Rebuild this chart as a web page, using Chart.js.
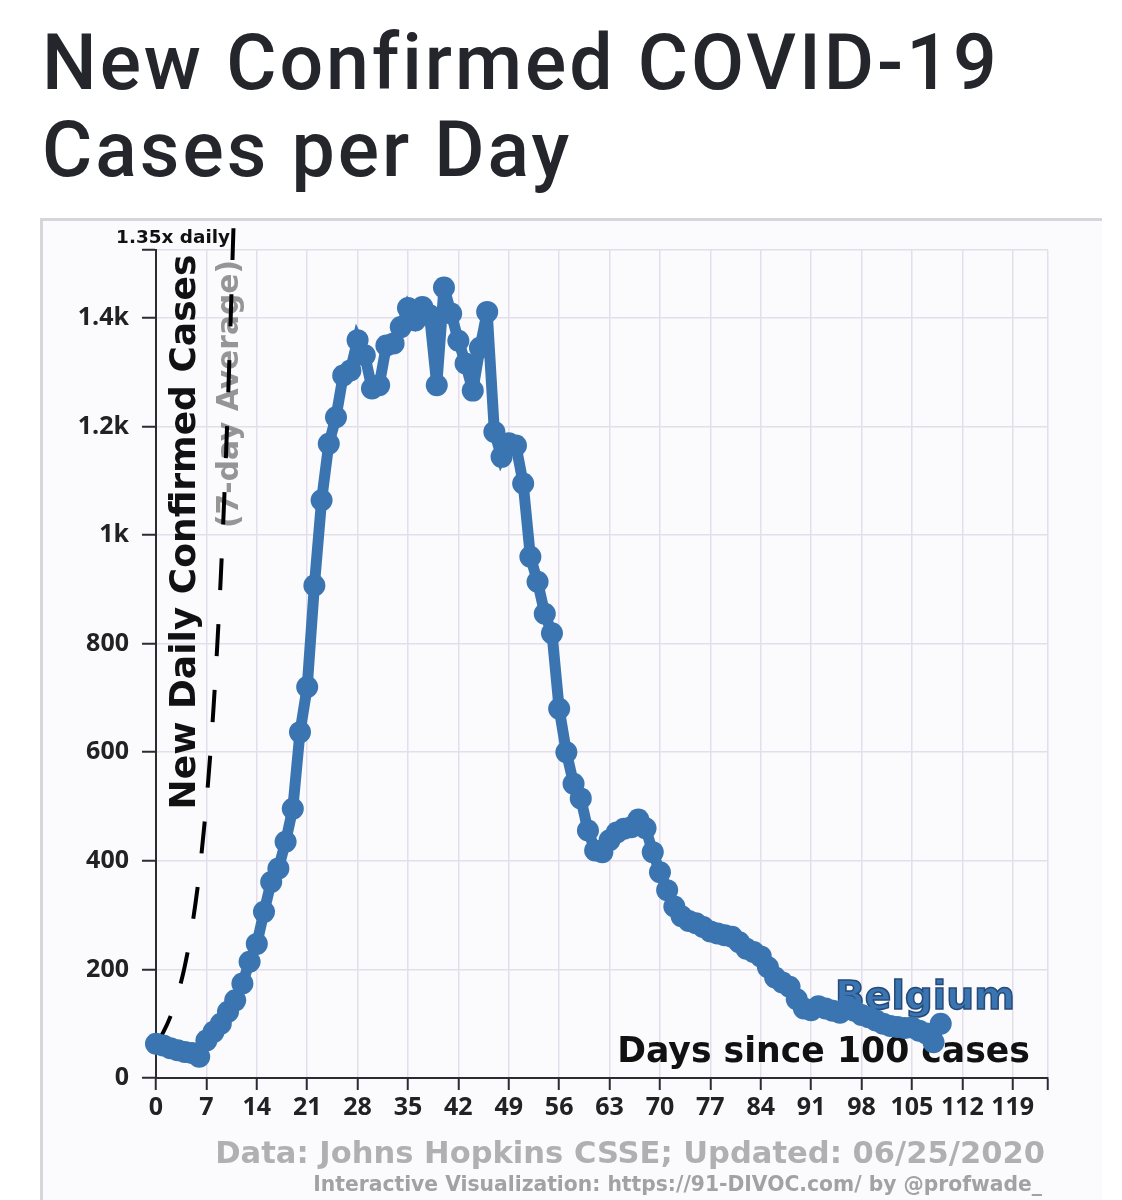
<!DOCTYPE html>
<html>
<head>
<meta charset="utf-8">
<title>New Confirmed COVID-19 Cases per Day</title>
<script src="https://cdn.jsdelivr.net/npm/chart.js@4.4.1/dist/chart.umd.min.js"></script>
<style>
  html, body { margin: 0; padding: 0; background: #fff; }
  body { width: 1122px; height: 1200px; position: relative; overflow: hidden; }
  #title {
    position: absolute; left: 42px; top: 20px;
    font-family: Roboto, sans-serif; font-size: 77px; font-weight: 500;
    line-height: 87px; letter-spacing: 3px; color: #24262b; white-space: nowrap;
  }
  #box {
    position: absolute; left: 40px; top: 218px; width: 1062px; height: 1000px;
    border-top: 3px solid #d6d6da; border-left: 3px solid #d6d6da;
    background: #fbfbfd; box-sizing: border-box;
  }
  #chart { position: absolute; left: 0; top: 0; }
</style>
</head>
<body>
<div id="title">New Confirmed COVID-19<br>Cases per Day</div>
<div id="box"></div>
<canvas id="chart" width="1122" height="1200"></canvas>
<script>
// Belgium, new daily confirmed cases (7-day average), one value per day since 100 cases (day 0..109)
const belgium = [
  63, 60, 55, 51, 48, 46, 39, 69, 85, 100,
  122, 143, 174, 214, 247, 306, 361, 386, 435, 496,
  637, 720, 907, 1064, 1168, 1217, 1294, 1303, 1359, 1331,
  1270, 1276, 1349, 1353, 1383, 1418, 1395, 1420, 1405, 1276,
  1456, 1408, 1358, 1316, 1266, 1345, 1411, 1190, 1144, 1169,
  1165, 1095, 960, 914, 855, 819, 680, 600, 542, 515,
  456, 419, 416, 438, 452, 459, 462, 476, 460, 416,
  379, 346, 316, 298, 289, 285, 278, 270, 266, 263,
  260, 250, 238, 232, 224, 204, 185, 176, 168, 145,
  128, 125, 132, 128, 124, 120, 131, 124, 116, 112,
  106, 100, 96, 94, 92, 93, 87, 82, 66, 100
];

// "1.35x daily" reference line
const refDays = [0, 1, 2, 3, 4, 5, 6, 7, 8, 9, 10, 10.76];
const refValues = [62, 84, 113, 153, 206, 278, 375, 507, 684, 923, 1247, 1565];

// axis ticks
const xTicks = [0, 7, 14, 21, 28, 35, 42, 49, 56, 63, 70, 77, 84, 91, 98, 105, 112, 119, 123.9];
const yTicks = [0, 200, 400, 600, 800, 1000, 1200, 1400, 1525];

const blue = "#3a74b1";
const boldFont = "'DejaVu Sans', sans-serif";
const tickFont = { family: "'Open Sans', sans-serif", weight: "bold", size: 25 };

function fitFont(ctx, text, family, targetWidth) {
  ctx.font = "bold 100px " + family;
  const size = 100 * targetWidth / ctx.measureText(text).width;
  ctx.font = "bold " + size + "px " + family;
}

const textPlugin = {
  id: "texts",
  beforeDatasetsDraw(chart) {
    const ctx = chart.ctx;
    ctx.save();

    // y axis title inside the plot
    ctx.save();
    ctx.translate(195, 532);
    ctx.rotate(-Math.PI / 2);
    ctx.textAlign = "center";
    ctx.textBaseline = "alphabetic";
    ctx.fillStyle = "#111";
    fitFont(ctx, "New Daily Confirmed Cases", boldFont, 555);
    ctx.fillText("New Daily Confirmed Cases", 0, 0);
    ctx.restore();

    ctx.save();
    ctx.translate(238, 394);
    ctx.rotate(-Math.PI / 2);
    ctx.textAlign = "center";
    ctx.fillStyle = "#959595";
    fitFont(ctx, "(7-day Average)", boldFont, 268);
    ctx.fillText("(7-day Average)", 0, 0);
    ctx.restore();

    // country label
    ctx.textAlign = "left";
    fitFont(ctx, "Belgium", boldFont, 180);
    ctx.fillStyle = blue;
    ctx.fillText("Belgium", 835, 1009);
    ctx.lineWidth = 1.5;
    ctx.strokeStyle = "#254a78";
    ctx.strokeText("Belgium", 835, 1009);

    // x axis title inside the plot
    ctx.textAlign = "right";
    ctx.fillStyle = "#111";
    fitFont(ctx, "Days since 100 cases", boldFont, 413);
    ctx.fillText("Days since 100 cases", 1030, 1062);

    // reference line label
    fitFont(ctx, "1.35x daily", boldFont, 114);
    ctx.fillText("1.35x daily", 230, 243);

    ctx.restore();
    // short miter spikes like the original svg
    ctx.miterLimit = 4;
  },
  afterDraw(chart) {
    const ctx = chart.ctx;
    ctx.save();
    ctx.textAlign = "right";
    ctx.fillStyle = "#b0b0b0";
    fitFont(ctx, "Data: Johns Hopkins CSSE; Updated: 06/25/2020", boldFont, 830);
    ctx.fillText("Data: Johns Hopkins CSSE; Updated: 06/25/2020", 1045, 1163);
    ctx.fillStyle = "#a2a2a2";
    fitFont(ctx, "Interactive Visualization: https://91-DIVOC.com/ by @profwade_", boldFont, 729);
    ctx.fillText("Interactive Visualization: https://91-DIVOC.com/ by @profwade_", 1042, 1191);
    ctx.restore();
  }
};

const ctx = document.getElementById("chart").getContext("2d");
new Chart(ctx, {
  type: "line",
  data: {
    datasets: [
      {
        label: "Belgium",
        data: belgium.map((v, i) => ({ x: i, y: v })),
        borderColor: blue,
        backgroundColor: blue,
        borderWidth: 11,
        pointRadius: 11,
        pointBorderWidth: 0,
        pointBackgroundColor: blue,
        clip: false
      },
      {
        label: "1.35x daily",
        data: refDays.map((d, i) => ({ x: d, y: refValues[i] })),
        borderColor: "#000",
        borderWidth: 4,
        borderDash: [32, 34],
        pointRadius: 0,
        cubicInterpolationMode: "monotone",
        clip: false
      }
    ]
  },
  options: {
    responsive: false,
    animation: false,
    events: [],
    layout: { padding: { left: 40, top: 250, right: 74, bottom: 52 } },
    plugins: { legend: { display: false }, tooltip: { enabled: false } },
    scales: {
      x: {
        type: "linear",
        min: 0,
        max: 123.9,
        afterBuildTicks: axis => { axis.ticks = xTicks.map(v => ({ value: v })); },
        afterFit: axis => { axis.height = 70; },
        ticks: {
          callback: v => (v % 7 === 0 ? v : ""),
          font: tickFont,
          color: "#222",
          padding: 3,
          maxRotation: 0,
          autoSkip: false
        },
        grid: {
          color: "#e3deeb",
          lineWidth: 1.5,
          tickColor: "#2b2b33",
          tickLength: 12,
          tickWidth: 2
        },
        border: { color: "#2b2b33", width: 2 }
      },
      y: {
        type: "linear",
        min: 0,
        max: 1525,
        afterBuildTicks: axis => { axis.ticks = yTicks.map(v => ({ value: v })); },
        afterFit: axis => { axis.width = 116; },
        ticks: {
          callback: v => (v === 1525 ? "" : v >= 1000 ? (v / 1000) + "k" : v),
          font: tickFont,
          color: "#222",
          padding: 13,
          autoSkip: false
        },
        grid: {
          color: "#e3deeb",
          lineWidth: 1.5,
          tickColor: "#2b2b33",
          tickLength: 14,
          tickWidth: 2
        },
        border: { color: "#2b2b33", width: 2 }
      }
    }
  },
  plugins: [textPlugin]
});
</script>
</body>
</html>
